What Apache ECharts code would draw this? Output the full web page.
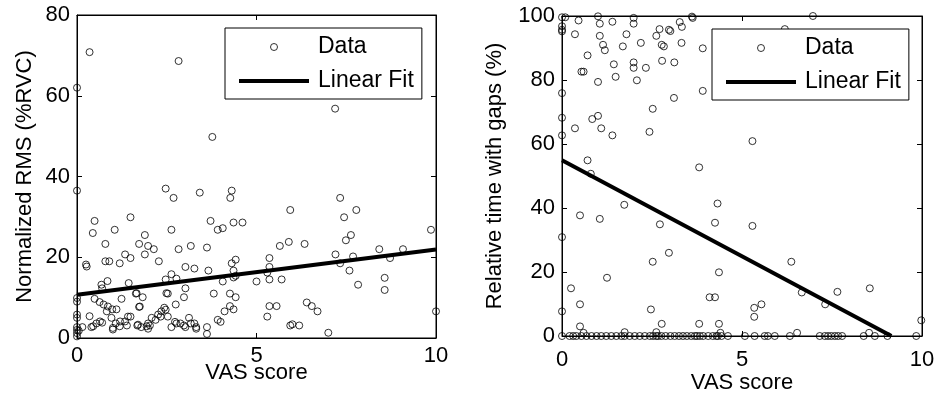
<!DOCTYPE html>
<html>
<head>
<meta charset="utf-8">
<script src="https://cdn.jsdelivr.net/npm/echarts@6/dist/echarts.min.js"></script>
<style>
  html, body { margin: 0; background: #fff; }
  #main { width: 938px; height: 400px; }
</style>
</head>
<body>
<div id="main"></div>
<script>
// tick labels
var vasTicks = [0, 5, 10];
var rmsTicks = [0, 20, 40, 60, 80];
var gapTicks = [0, 20, 40, 60, 80, 100];

// left panel: VAS score vs normalized RMS
var rmsPoints = [
  [0, 62], [0.35, 70.8], [2.83, 68.6], [3.77, 49.8], [7.19, 56.8],
  [0, 36.5], [2.47, 37], [2.69, 34.7], [3.42, 36], [4.31, 36.5], [4.27, 34.7],
  [0.49, 29], [0.44, 26], [1.49, 29.9], [1.05, 26.8], [0.79, 23.3], [1.89, 25.5],
  [1.73, 23.3], [1.98, 22.8], [2.14, 22], [1.89, 20.7], [2.63, 26.8], [3.72, 29],
  [3.92, 26.8], [4.06, 27.2], [4.36, 28.6], [4.61, 28.6], [3.17, 22.8], [2.83, 22],
  [3.62, 22.4], [0.25, 18.2], [0.27, 17.7], [0.79, 19], [0.9, 19], [1.19, 18.5],
  [1.34, 20.7], [1.49, 19.8], [2.28, 19], [3.02, 17.6], [3.27, 17.2], [3.66, 16.7],
  [4.42, 19.4], [4.31, 18.5], [4.36, 16.7], [4.42, 15.4], [4.36, 15], [2.63, 15.8],
  [2.47, 14.5], [2.77, 14.7], [0.85, 14.1], [1.44, 13.6], [0.7, 12.3], [3.02, 12.3],
  [1.64, 11], [2.53, 11], [4.06, 14], [3.81, 11], [4.26, 11], [5.0, 14], [0.68, 13.2],
  [0, 9.9], [0, 9.0], [1.24, 9.7], [0.49, 9.7], [0.63, 8.9], [0.74, 8.3], [1.83, 10.1],
  [1.73, 7.7], [2.75, 8.3], [2.98, 10.1], [2.43, 7.5], [2.47, 7], [0.98, 7.1], [1.1, 7.1],
  [0.86, 7.8], [0.83, 6.6], [0, 5.8], [0, 5], [0.35, 5.4], [0.64, 4.1], [0.54, 3.6],
  [0.7, 3.8], [0.96, 5], [1.0, 2.5], [1.0, 2.1], [1.08, 3.6], [1.2, 4.1], [1.42, 5.3],
  [1.49, 5.3], [1.34, 4.1], [1.39, 3.1], [1.68, 3.1], [1.79, 2.7], [1.98, 3.6],
  [1.98, 2.3], [2.03, 3.1], [2.08, 5], [2.19, 4.5], [2.33, 5.3], [2.53, 5.3], [2.63, 2.7],
  [2.73, 4], [2.77, 3.6], [2.88, 3.6], [2.98, 3.1], [3.02, 2.7], [3.12, 5], [3.17, 3.6],
  [3.27, 3.6], [3.32, 2.7], [3.32, 2.3], [3.62, 2.7], [3.62, 1], [3.92, 4.5], [4.0, 4],
  [4.11, 6.6], [4.26, 7.9], [4.36, 7.1], [4.42, 10.1], [0, 2.7], [0, 2], [0, 1.2],
  [0, 0.4], [0.15, 2.7], [0.4, 2.7], [0.45, 2.9], [0.05, 1.8], [1.66, 11.1], [1.75, 7.8],
  [2.49, 11.1], [2.26, 5.8], [2.35, 6.6], [1.19, 2.9], [1.7, 3.3], [1.94, 2.9],
  [7.33, 34.7], [5.94, 31.7], [7.78, 31.7], [7.44, 29.9], [9.86, 26.8], [7.63, 25.5],
  [7.49, 24.2], [5.9, 23.8], [5.65, 22.8], [6.34, 23.3], [7.2, 20.7], [8.42, 22],
  [9.08, 22], [7.69, 20.2], [8.72, 19.8], [5.36, 19.8], [5.36, 17.6], [5.3, 16.2],
  [7.33, 18.5], [7.59, 16.7], [5.36, 14.5], [5.7, 14.5], [8.57, 14.9], [7.83, 13.2],
  [8.57, 11.9], [5.36, 7.9], [5.56, 7.9], [5.3, 5.3], [6.4, 8.8], [6.54, 7.9], [6.7, 6.6],
  [10, 6.6], [5.94, 3.1], [6.0, 3.4], [6.19, 3.1], [7.0, 1.3]
];
var rmsFitVas = [0, 10];
var rmsFitVal = [10.7, 21.9];

// right panel: VAS score vs relative time with gaps
var gapPoints = [
  [0, 99.6], [0.09, 99.6], [0, 96.8], [0, 95.7], [0, 95.2], [0.46, 98.6], [1.0, 99.9],
  [1.05, 97.6], [1.4, 98.2], [1.99, 99.4], [1.99, 97.6], [0.36, 94.3], [1.05, 93.8],
  [1.79, 94.3], [2.62, 93.8], [2.71, 95.9], [2.97, 95.7], [3.01, 95.3], [3.27, 98.1],
  [3.33, 96.6], [3.61, 99.8], [3.63, 99.4], [1.14, 91], [1.19, 89.3], [1.69, 90.5],
  [2.19, 91.6], [2.77, 91], [2.83, 90.5], [3.32, 91.6], [3.91, 89.9], [0.71, 87.7],
  [1.44, 84.9], [1.99, 85.5], [1.99, 83.8], [2.33, 83.8], [2.78, 86], [3.12, 85.5],
  [0.54, 82.6], [0.6, 82.6], [1.49, 81], [1.0, 79.4], [2.08, 79.9], [0, 75.9],
  [3.91, 76.6], [3.11, 74.4], [2.52, 71], [0, 68.2], [0.84, 67.8], [1.0, 68.8],
  [0.36, 64.9], [1.09, 64.9], [0, 62.7], [1.4, 62.7], [2.43, 63.8], [0.71, 54.9],
  [3.81, 52.7], [0.8, 50.7], [6.97, 100], [6.19, 95.9], [5.29, 60.9],
  [1.73, 41], [0.5, 37.7], [1.05, 36.6], [2.72, 34.9], [4.32, 41.4], [4.25, 35.4],
  [0, 30.9], [2.97, 26], [2.52, 23.2], [1.25, 18.2], [4.36, 19.9], [0.25, 14.9],
  [0.5, 9.9], [0, 7.7], [2.47, 8.3], [4.1, 12.1], [4.25, 12.1], [0.5, 3], [2.77, 3.8],
  [3.81, 3.8], [4.36, 3.8], [2.62, 1.2], [1.74, 1.2], [0.6, 1], [4.4, 1],
  [5.29, 34.4], [6.37, 23.2], [6.66, 13.6], [7.31, 9.9], [7.65, 13.8], [8.55, 14.9],
  [5.34, 8.8], [5.54, 9.9], [5.34, 6], [6.53, 1], [8.53, 1], [9.98, 4.9]
];
// subjects sitting at 0 % gap time
var gapZeroVas = [
  0, 0.21, 0.31, 0.4, 0.54, 0.68, 0.82, 0.96, 1.09, 1.23, 1.37, 1.51, 1.65, 1.74, 1.88,
  2.02, 2.16, 2.3, 2.44, 2.53, 2.62, 2.67, 2.76, 2.88, 3.01, 3.13, 3.25, 3.36, 3.47,
  3.59, 3.69, 3.75, 3.83, 3.92, 4.06, 4.19, 4.29, 4.33, 4.43, 4.61, 5.08, 5.35, 5.63,
  5.72, 5.91, 6.33, 7.16, 7.3, 7.39, 7.48, 7.58, 7.67, 7.78, 8.38, 8.69, 9.04, 9.84
];
var gapFitVas = [0, 9.15];
var gapFitVal = [54.9, 0];

var FONT = 'Liberation Sans, Arial, Helvetica, sans-serif';
var FS = 22;

function axis(grid, ticks, pos, name, gap, labelMargin) {
  var a = {
    type: 'value',
    gridIndex: grid,
    position: pos,
    min: ticks[0],
    max: ticks[ticks.length - 1],
    interval: ticks[1] - ticks[0],
    axisLine: { show: true, onZero: false, lineStyle: { color: '#000', width: 1 } },
    axisTick: { show: true, inside: true, length: 5, lineStyle: { color: '#000' } },
    splitLine: { show: false },
    axisLabel: { show: !!name, color: '#000', fontSize: FS, fontFamily: FONT, margin: labelMargin || 7 }
  };
  if (name) {
    a.name = name;
    a.nameLocation = 'middle';
    a.nameGap = gap;
    a.nameMoveOverlap = false;
    a.nameTextStyle = { color: '#000', fontSize: FS, fontFamily: FONT };
  }
  return a;
}

function lineData(xs, ys) {
  return xs.map(function (x, i) { return [x, ys[i]]; });
}

function legendFor(left, top) {
  return {
    orient: 'vertical',
    left: left,
    top: top,
    backgroundColor: '#fff',
    borderColor: '#000',
    borderWidth: 1,
    borderRadius: 0,
    padding: [6, 8, 5, 14],
    itemGap: 8,
    itemWidth: 70,
    itemHeight: 7,
    selectedMode: false,
    textStyle: { color: '#000', fontSize: 23, fontFamily: FONT, padding: [0, 0, 0, 4], lineHeight: 26 },
    data: [
      { name: 'Data', icon: 'circle', itemStyle: { color: '#fff', borderColor: '#000', borderWidth: 1 } },
      { name: 'Linear Fit', icon: 'path://M0 0H70V4H0Z', itemStyle: { color: '#000', borderWidth: 0 } }
    ]
  };
}

var scatterStyle = { color: 'rgba(0,0,0,0)', borderColor: '#000', borderWidth: 1 };

var chart = echarts.init(document.getElementById('main'));
chart.setOption({
  animation: false,
  backgroundColor: '#fff',
  grid: [
    { left: 77, top: 15, width: 359, height: 323, show: true, borderColor: '#000', borderWidth: 1, backgroundColor: 'transparent' },
    { left: 562, top: 16, width: 360, height: 320, show: true, borderColor: '#000', borderWidth: 1, backgroundColor: 'transparent' }
  ],
  xAxis: [
    axis(0, vasTicks, 'bottom', 'VAS score', 24, 7),
    axis(0, vasTicks, 'top'),
    axis(1, vasTicks, 'bottom', 'VAS score', 36, 13),
    axis(1, vasTicks, 'top')
  ],
  yAxis: [
    axis(0, rmsTicks, 'left', 'Normalized RMS (%RVC)', 41),
    axis(0, rmsTicks, 'right'),
    axis(1, gapTicks, 'left', 'Relative time with gaps (%)', 56),
    axis(1, gapTicks, 'right')
  ],
  legend: [legendFor(225, 28), legendFor(712, 29)],
  series: [
    {
      name: 'Data', type: 'scatter', xAxisIndex: 0, yAxisIndex: 0,
      symbol: 'circle', symbolSize: 7, clip: false, itemStyle: scatterStyle,
      data: rmsPoints
    },
    {
      name: 'Linear Fit', type: 'line', xAxisIndex: 0, yAxisIndex: 0,
      symbol: 'none', lineStyle: { color: '#000', width: 4 }, itemStyle: { color: '#000' },
      data: lineData(rmsFitVas, rmsFitVal)
    },
    {
      name: 'Data', type: 'scatter', xAxisIndex: 2, yAxisIndex: 2,
      symbol: 'circle', symbolSize: 7, clip: false, itemStyle: scatterStyle,
      data: gapPoints.concat(gapZeroVas.map(function (v) { return [v, 0]; }))
    },
    {
      name: 'Linear Fit', type: 'line', xAxisIndex: 2, yAxisIndex: 2,
      symbol: 'none', lineStyle: { color: '#000', width: 4 }, itemStyle: { color: '#000' },
      data: lineData(gapFitVas, gapFitVal)
    }
  ]
});
</script>
</body>
</html>
